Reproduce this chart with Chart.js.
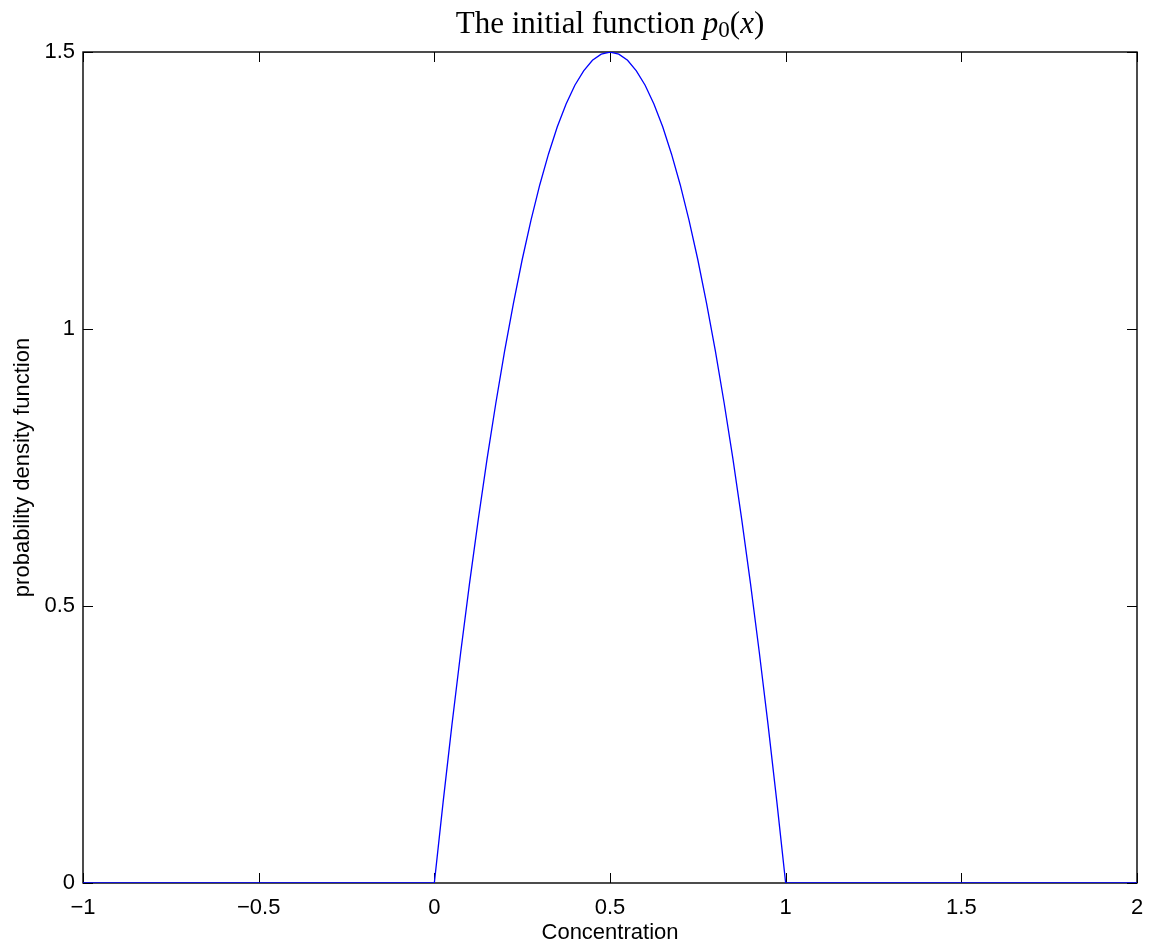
<!DOCTYPE html>
<html>
<head>
<meta charset="utf-8">
<script src="https://cdn.jsdelivr.net/npm/chart.js@4.4.1/dist/chart.umd.min.js"></script>
<style>
  html, body { margin: 0; padding: 0; background: #fff; }
  canvas { display: block; }
</style>
</head>
<body>
<canvas id="pdfChart" width="1151" height="946"></canvas>
<script>
// concentration values (x) and the initial pdf p0(x)
const concentration = [
  -1,
  0, 0.025, 0.05, 0.075, 0.1, 0.125, 0.15, 0.175, 0.2, 0.225,
  0.25, 0.275, 0.3, 0.325, 0.35, 0.375, 0.4, 0.425, 0.45, 0.475,
  0.5, 0.525, 0.55, 0.575, 0.6, 0.625, 0.65, 0.675, 0.7, 0.725,
  0.75, 0.775, 0.8, 0.825, 0.85, 0.875, 0.9, 0.925, 0.95, 0.975,
  1,
  2
];
const density = [
  0,
  0, 0.146, 0.285, 0.416, 0.54, 0.656, 0.765, 0.866, 0.96, 1.046,
  1.125, 1.196, 1.26, 1.316, 1.365, 1.406, 1.44, 1.466, 1.485, 1.496,
  1.5, 1.496, 1.485, 1.466, 1.44, 1.406, 1.365, 1.316, 1.26, 1.196,
  1.125, 1.046, 0.96, 0.866, 0.765, 0.656, 0.54, 0.416, 0.285, 0.146,
  0,
  0
];
const xTicks = [-1, -0.5, 0, 0.5, 1, 1.5, 2];
const yTicks = [0, 0.5, 1, 1.5];

const points = concentration.map((c, i) => ({ x: c, y: density[i] }));

function fmt(v) {
  return v < 0 ? '\u2212' + Math.abs(v) : String(v);
}

// box round the axes, with inward ticks on all four sides
const frame = {
  id: 'frame',
  beforeDatasetsDraw(chart) {
    const ctx = chart.ctx;
    const a = chart.chartArea;
    const x = chart.scales.x, y = chart.scales.y;
    ctx.save();
    ctx.strokeStyle = '#000';
    ctx.lineWidth = 1.4;
    ctx.strokeRect(a.left, a.top, a.right - a.left, a.bottom - a.top);
    ctx.lineWidth = 1;
    ctx.beginPath();
    xTicks.forEach(v => {
      const px = Math.round(x.getPixelForValue(v)) + 0.5;
      ctx.moveTo(px, a.bottom); ctx.lineTo(px, a.bottom - 10);
      ctx.moveTo(px, a.top); ctx.lineTo(px, a.top + 10);
    });
    yTicks.forEach(v => {
      const py = Math.round(y.getPixelForValue(v)) + 0.5;
      ctx.moveTo(a.left, py); ctx.lineTo(a.left + 10, py);
      ctx.moveTo(a.right, py); ctx.lineTo(a.right - 10, py);
    });
    ctx.stroke();
    ctx.restore();
  },
  afterDraw(chart) {
    // title "The initial function p_0(x)" in a serif face
    const ctx = chart.ctx;
    const a = chart.chartArea;
    const parts = [
      { t: 'The initial function ', f: '31px "Liberation Serif"', dy: 0 },
      { t: 'p', f: 'italic 31px "Liberation Serif"', dy: 0 },
      { t: '0', f: '23px "Liberation Serif"', dy: 4 },
      { t: '(', f: '31px "Liberation Serif"', dy: 0 },
      { t: 'x', f: 'italic 31px "Liberation Serif"', dy: 0 },
      { t: ')', f: '31px "Liberation Serif"', dy: 0 }
    ];
    ctx.save();
    ctx.fillStyle = '#000';
    ctx.textBaseline = 'alphabetic';
    let total = 0;
    parts.forEach(p => { ctx.font = p.f; p.w = ctx.measureText(p.t).width; total += p.w; });
    let cx = (a.left + a.right) / 2 - total / 2;
    parts.forEach(p => {
      ctx.font = p.f;
      ctx.fillText(p.t, cx, 33 + p.dy);
      cx += p.w;
    });
    ctx.restore();
  }
};

const tickFont = { family: '"Liberation Sans", Arial, sans-serif', size: 22 };

new Chart(document.getElementById('pdfChart'), {
  type: 'line',
  data: {
    datasets: [{
      data: points,
      borderColor: 'rgb(0, 0, 255)',
      borderWidth: 1.3,
      pointRadius: 0,
      tension: 0,
      fill: false
    }]
  },
  options: {
    responsive: false,
    animation: false,
    events: [],
    layout: { padding: { left: 0, top: 52, right: 14, bottom: 0 } },
    plugins: { legend: { display: false }, tooltip: { enabled: false }, title: { display: false } },
    scales: {
      x: {
        type: 'linear',
        min: -1, max: 2,
        afterFit: s => { s.height = 63; s.paddingLeft = 0; s.paddingRight = 0; },
        afterBuildTicks: s => { s.ticks = xTicks.map(v => ({ value: v })); },
        grid: { display: false, drawTicks: false },
        border: { display: false },
        ticks: { color: '#000', font: tickFont, padding: 12, maxRotation: 0, autoSkip: false, callback: fmt },
        title: {
          display: true, text: 'Concentration', color: '#000',
          font: { family: '"Liberation Sans", Arial, sans-serif', size: 22 },
          padding: { top: 0, bottom: 0 }
        }
      },
      y: {
        type: 'linear',
        min: 0, max: 1.5,
        afterFit: s => { s.width = 83; s.paddingTop = 0; s.paddingBottom = 0; },
        afterBuildTicks: s => { s.ticks = yTicks.map(v => ({ value: v })); },
        grid: { display: false, drawTicks: false },
        border: { display: false },
        ticks: { color: '#000', font: tickFont, padding: 8, autoSkip: false, callback: fmt },
        title: {
          display: true, text: 'probability density function', color: '#000',
          font: { family: '"Liberation Sans", Arial, sans-serif', size: 22 },
          padding: { top: 10, bottom: 10 }
        }
      }
    }
  },
  plugins: [frame]
});
</script>
</body>
</html>
